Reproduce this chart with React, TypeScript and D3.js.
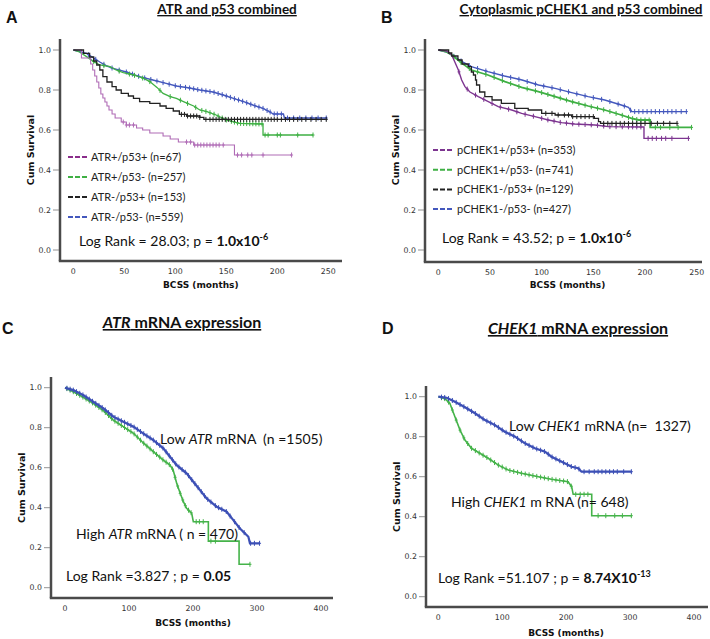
import React from "react";
import * as d3 from "d3";

type Pt = [number, number];

const yTicks = [0, 0.2, 0.4, 0.6, 0.8, 1.0];
const xTicksAB = [0, 50, 100, 150, 200, 250];
const xTicksCD = [0, 100, 200, 300, 400];

// ---------- Panel A: ATR and p53 combined ----------
const aPurple: Pt[] = [[0,1],[8,0.96],[17,0.93],[19,0.9],[21,0.87],[23,0.84],[25,0.81],[27,0.78],[29,0.76],[31,0.74],[33,0.72],[35,0.70],[38,0.68],[41,0.66],[47,0.64],[52,0.625],[62,0.61],[68,0.60],[75,0.585],[88,0.57],[95,0.555],[103,0.54],[118,0.525],[158,0.475],[214,0.475]];
const aPurpleCensor = [49,52,55,59,111,115,119,122,125,128,131,134,137,140,143,147,161,165,171,175,186,214];
const aGreen: Pt[] = [[0,1],[6,0.99],[13,0.967],[20,0.942],[26,0.925],[36,0.917],[42,0.9],[49,0.887],[59,0.875],[69,0.858],[75,0.842],[82,0.813],[88,0.783],[95,0.767],[101,0.758],[108,0.742],[118,0.72],[124,0.7],[131,0.692],[140,0.675],[150,0.65],[163,0.633],[186,0.63],[186,0.575],[235,0.575]];
const aGreenCensor = [20,30,45,55,60,68,75,85,95,105,112,120,126,130,134,138,142,146,150,155,158,161,164,167,170,173,176,179,182,185,188,191,200,203,220,235];
const aBlack: Pt[] = [[0,1],[10,0.983],[16,0.965],[20,0.945],[23,0.925],[26,0.9],[29,0.867],[33,0.84],[38,0.817],[42,0.8],[47,0.783],[54,0.77],[59,0.758],[65,0.742],[75,0.733],[85,0.72],[91,0.708],[98,0.695],[104,0.678],[111,0.67],[124,0.663],[128,0.653],[247,0.653]];
const aBlackCensor = [106,109,112,115,118,121,124,130,134,137,140,143,146,149,152,155,158,161,164,167,170,173,176,179,182,185,188,191,194,197,200,204,208,212,216,220,224,228,233,238,243,248];
const aBlue: Pt[] = [[0,1],[13,0.983],[20,0.96],[26,0.94],[33,0.92],[39,0.908],[52,0.89],[65,0.867],[78,0.85],[91,0.833],[101,0.82],[114,0.81],[124,0.8],[137,0.79],[147,0.775],[157,0.758],[167,0.742],[176,0.725],[186,0.708],[193,0.69],[196,0.68],[206,0.68],[207,0.66],[248,0.66]];
const aBlueCensor = [15,22,30,38,45,52,58,64,70,76,82,88,94,100,105,110,114,118,122,126,130,134,138,142,146,150,154,158,162,166,170,174,178,182,186,190,193,197,200,204,210,216,222,228,234,240,248];
const legendA = ["ATR+/p53+ (n=67)", "ATR+/p53- (n=257)", "ATR-/p53+ (n=153)", "ATR-/p53- (n=559)"];

// ---------- Panel B: Cytoplasmic pCHEK1 and p53 combined ----------
const bPurple: Pt[] = [[0,1],[8,0.995],[13,0.975],[16,0.94],[19.4,0.9],[22.6,0.85],[25.8,0.817],[30.6,0.79],[38.7,0.767],[48.4,0.742],[58,0.717],[71,0.7],[80.6,0.683],[93.5,0.667],[106.5,0.65],[119,0.637],[132,0.63],[151.6,0.625],[164.5,0.617],[199,0.615],[199,0.558],[242,0.558]];
const bPurpleCensor = [20,28,36,44,52,60,68,76,84,92,100,106,112,118,124,130,136,142,148,154,160,166,172,178,184,188,192,196,203,207,211,216,220,226,242];
const bGreen: Pt[] = [[0,1],[8,0.99],[13,0.975],[23,0.933],[32,0.9],[48,0.875],[64.5,0.842],[80.6,0.813],[96.8,0.792],[113,0.767],[129,0.742],[145,0.72],[161,0.7],[177,0.675],[187,0.658],[194,0.65],[205,0.65],[205,0.613],[245,0.613]];
const bGreenCensor = [15,22,30,38,46,54,62,70,78,86,94,100,106,112,118,124,130,136,142,148,154,160,166,172,178,184,188,192,196,200,204,210,215,224,232,245];
const bBlack: Pt[] = [[0,1],[10,0.985],[13,0.97],[19,0.95],[23,0.93],[29,0.917],[32,0.89],[34,0.875],[36,0.85],[37,0.825],[40,0.79],[45,0.767],[52,0.75],[61,0.733],[74,0.708],[87,0.7],[100,0.683],[113,0.675],[129,0.667],[151,0.658],[155,0.642],[157,0.633],[231,0.633]];
const bBlackCensor = [104,110,116,122,126,130,134,138,142,146,150,160,164,168,172,176,180,184,188,192,196,200,206,212,218,224,231];
const bBlue: Pt[] = [[0,1],[8,0.99],[13,0.975],[23,0.942],[32,0.917],[48,0.892],[64,0.87],[81,0.85],[97,0.825],[113,0.808],[129,0.787],[145,0.767],[161,0.75],[177,0.725],[184,0.713],[187,0.692],[240,0.692]];
const bBlueCensor = [15,22,30,38,46,54,62,70,78,86,94,102,110,118,126,134,142,150,158,166,174,180,186,190,194,198,202,206,210,214,218,222,226,230,235,240];
const legendB = ["pCHEK1+/p53+ (n=353)", "pCHEK1+/p53- (n=741)", "pCHEK1-/p53+ (n=129)", "pCHEK1-/p53- (n=427)"];

// ---------- Panel C: ATR mRNA expression ----------
const cLow: Pt[] = [[0,1],[13,0.988],[28.6,0.963],[44,0.93],[60,0.897],[75.5,0.855],[91,0.83],[107,0.805],[122,0.772],[138,0.738],[153.6,0.697],[164,0.655],[174.5,0.613],[190,0.572],[200.5,0.53],[211,0.488],[221,0.447],[237,0.405],[252.6,0.38],[263,0.338],[273,0.297],[286.5,0.255],[289,0.222],[304.7,0.222]];
const cLowCensor = [3,8,13,18,23,28,33,38,43,48,53,58,63,68,73,78,83,88,93,98,103,108,113,118,123,128,133,138,143,148,153,158,163,168,173,178,183,188,193,198,203,208,213,218,223,228,235,240,245,252,258,265,272,280,290,296,304];
const cHigh: Pt[] = [[0,1],[13,0.98],[28.6,0.952],[44,0.922],[60,0.885],[75.5,0.838],[91,0.805],[107,0.772],[122,0.725],[138,0.68],[153.6,0.638],[164,0.613],[169,0.588],[174.5,0.522],[180,0.472],[185,0.43],[190,0.397],[198,0.372],[200.5,0.33],[224,0.33],[224,0.233],[272,0.233],[272,0.117],[289,0.117]];
const cHighCensor = [3,8,13,18,23,28,33,38,43,48,53,58,63,68,73,78,83,88,93,98,103,108,113,118,123,128,133,138,143,148,153,158,163,168,172,176,180,184,188,193,197,205,210,216,228,235,289];

// ---------- Panel D: CHEK1 mRNA expression ----------
const dLow: Pt[] = [[0,1],[13,0.995],[26,0.975],[41.7,0.947],[57.4,0.917],[73,0.883],[88.7,0.858],[104,0.825],[120,0.8],[135.6,0.767],[151,0.742],[167,0.725],[177,0.7],[193,0.675],[208.6,0.65],[219,0.642],[224,0.625],[302.5,0.625]];
const dLowCensor = [5,10,16,22,28,34,40,46,52,58,64,70,76,82,88,94,100,106,112,118,124,130,136,142,148,154,160,166,172,178,184,190,196,202,208,214,220,228,236,244,250,256,262,268,274,280,290,302];
const dHigh: Pt[] = [[0,1],[10.4,0.99],[18,0.967],[26,0.9],[34,0.833],[41.7,0.783],[52,0.742],[65,0.717],[78,0.692],[94,0.658],[109.5,0.633],[130,0.617],[156.5,0.6],[177,0.587],[203,0.575],[208.6,0.55],[211,0.512],[240,0.512],[240,0.405],[302.5,0.405]];
const dHighCensor = [5,10,16,22,28,34,40,46,52,58,64,70,76,82,88,94,100,106,112,118,124,130,136,142,148,154,160,166,172,178,184,190,196,202,208,215,222,228,234,250,262,276,288,302];

type Series = { pts: Pt[]; censor: number[]; color: string; step: boolean; width: number };

function survAt(pts: Pt[], t: number, step: boolean): number {
  let i = -1;
  for (let k = 0; k < pts.length; k++) if (pts[k][0] <= t) i = k;
  if (i < 0) return pts[0][1];
  if (step) return pts[i][1];
  if (i + 1 < pts.length && pts[i + 1][0] > pts[i][0]) {
    const [t0, s0] = pts[i];
    const [t1, s1] = pts[i + 1];
    return s0 + ((s1 - s0) * (t - t0)) / (t1 - t0);
  }
  return pts[i][1];
}

type Layout = {
  x0: number; x1: number; tMax: number; yBot: number; yTop: number;
  axisX: number; axisY: number; axisTop: number; axisRight: number; xTicks: number[];
};

const SANS = "'DejaVu Sans', sans-serif";
const TXT = "Lato, 'Open Sans', sans-serif";

function Panel({ L, series }: { L: Layout; series: Series[] }) {
  const x = d3.scaleLinear().domain([0, L.tMax]).range([L.x0, L.x1]);
  const y = d3.scaleLinear().domain([0, 1]).range([L.yBot, L.yTop]);
  return (
    <g>
      <line x1={L.axisX} x2={L.axisX} y1={L.axisTop} y2={L.axisY} stroke="#4a4a4a" strokeWidth={2.5} />
      <line x1={L.axisX - 1.2} x2={L.axisRight} y1={L.axisY} y2={L.axisY} stroke="#4a4a4a" strokeWidth={2.5} />
      {yTicks.map((v) => (
        <g key={"y" + v}>
          <line x1={L.axisX - 7} x2={L.axisX - 1} y1={y(v)} y2={y(v)} stroke="#777" strokeWidth={0.8} />
          <text x={L.axisX - 9} y={y(v)} dy="0.35em" textAnchor="end" fontSize={7.8} fill="#333" fontFamily={SANS}>
            {v.toFixed(1)}
          </text>
        </g>
      ))}
      {L.xTicks.map((v) => (
        <text key={"x" + v} x={x(v)} y={L.axisY + 10.5} dy="0.35em" textAnchor="middle" fontSize={7.8} fill="#333" fontFamily={SANS}>
          {v}
        </text>
      ))}
      <text transform={`translate(${L.axisX - 29},${(L.yTop + L.yBot) / 2}) rotate(-90)`} textAnchor="middle" dy="0.35em" fontSize={9.5} fontWeight="bold" fill="#111" fontFamily={SANS}>
        Cum Survival
      </text>
      {series.map((s, i) => {
        const line = d3.line<Pt>().x((d) => x(d[0])).y((d) => y(d[1])).curve(s.step ? d3.curveStepAfter : d3.curveLinear);
        return (
          <g key={"s" + i}>
            <path d={line(s.pts) || ""} fill="none" stroke={s.color} strokeWidth={s.width} />
            {s.censor.map((t, j) => {
              const cx = x(t);
              const cy = y(survAt(s.pts, t, s.step));
              return (
                <path key={j} d={`M${cx},${cy - 2.5}V${cy + 2.5}M${cx - 1.5},${cy}H${cx + 1.5}`} stroke={s.color} strokeWidth={1} fill="none" />
              );
            })}
          </g>
        );
      })}
    </g>
  );
}

const layoutA: Layout = { x0: 73.3, x1: 328.3, tMax: 250, yBot: 250, yTop: 50, axisX: 60, axisY: 261, axisTop: 39, axisRight: 342, xTicks: xTicksAB };
const layoutB: Layout = { x0: 438.3, x1: 696.7, tMax: 250, yBot: 250, yTop: 50, axisX: 425, axisY: 262, axisTop: 39, axisRight: 702, xTicks: xTicksAB };
const layoutC: Layout = { x0: 65, x1: 321, tMax: 400, yBot: 587.7, yTop: 387.7, axisX: 51, axisY: 598, axisTop: 377, axisRight: 333, xTicks: xTicksCD };
const layoutD: Layout = { x0: 438.3, x1: 694, tMax: 400, yBot: 596.7, yTop: 396.7, axisX: 426, axisY: 607, axisTop: 386, axisRight: 708, xTicks: xTicksCD };

const PURPLE_A = "#b06cb6";
const PURPLE_B = "#7d3590";
const GREEN = "#3fb044";
const BLUE = "#4458bd";
const BLACK = "#222";

function Legend({ x, y0, gap, labels, colors, textX }: { x: number; y0: number; gap: number; labels: string[]; colors: string[]; textX: number }) {
  return (
    <g>
      {labels.map((lab, i) => (
        <g key={lab}>
          <line x1={x} x2={x + 19} y1={y0 + i * gap} y2={y0 + i * gap} stroke={colors[i]} strokeWidth={2} strokeDasharray="5,2" />
          <text x={textX} y={y0 + i * gap} dy="0.35em" fontSize={11} fill="#222" fontFamily={TXT}>{lab}</text>
        </g>
      ))}
    </g>
  );
}

export default function App() {
  const seriesA: Series[] = [
    { pts: aBlue, censor: aBlueCensor, color: BLUE, step: false, width: 1.4 },
    { pts: aGreen, censor: aGreenCensor, color: GREEN, step: false, width: 1.3 },
    { pts: aPurple, censor: aPurpleCensor, color: PURPLE_A, step: true, width: 1.1 },
    { pts: aBlack, censor: aBlackCensor, color: BLACK, step: true, width: 1.3 },
  ];
  const seriesB: Series[] = [
    { pts: bBlue, censor: bBlueCensor, color: BLUE, step: false, width: 1.4 },
    { pts: bGreen, censor: bGreenCensor, color: GREEN, step: false, width: 1.8 },
    { pts: bPurple, censor: bPurpleCensor, color: PURPLE_B, step: false, width: 1.4 },
    { pts: bBlack, censor: bBlackCensor, color: BLACK, step: true, width: 1.3 },
  ];
  const seriesC: Series[] = [
    { pts: cHigh, censor: cHighCensor, color: "#45b34a", step: false, width: 1.6 },
    { pts: cLow, censor: cLowCensor, color: "#3d50b6", step: false, width: 2.2 },
  ];
  const seriesD: Series[] = [
    { pts: dHigh, censor: dHighCensor, color: "#45b34a", step: false, width: 1.6 },
    { pts: dLow, censor: dLowCensor, color: "#3d50b6", step: false, width: 2.2 },
  ];
  const letterFont = "'Liberation Sans', Arial";
  const pre = { whiteSpace: "pre" as const };
  return (
    <svg width={710} height={639} style={{ position: "absolute", left: 0, top: 0, background: "#fff" }}>
      <rect width={710} height={639} fill="#fff" />
      <text x={6} y={23} fontSize={16} fontWeight="bold" fontFamily={letterFont} fill="#111">A</text>
      <text x={381} y={23} fontSize={16} fontWeight="bold" fontFamily={letterFont} fill="#111">B</text>
      <text x={2} y={334} fontSize={16} fontWeight="bold" fontFamily={letterFont} fill="#111">C</text>
      <text x={382} y={334} fontSize={16} fontWeight="bold" fontFamily={letterFont} fill="#111">D</text>

      <text x={227} y={14} textAnchor="middle" fontSize={13.5} fontWeight="bold" fontFamily={TXT} fill="#111" textDecoration="underline">ATR and p53 combined</text>
      <text x={581} y={14} textAnchor="middle" fontSize={13.5} fontWeight="bold" fontFamily={TXT} fill="#111" textDecoration="underline">Cytoplasmic pCHEK1 and p53 combined</text>
      <text x={182} y={328} textAnchor="middle" fontSize={16} fontWeight="bold" fontFamily={TXT} fill="#111" textDecoration="underline"><tspan fontStyle="italic">ATR</tspan> mRNA expression</text>
      <text x={578} y={334} textAnchor="middle" fontSize={16} fontWeight="bold" fontFamily={TXT} fill="#111" textDecoration="underline"><tspan fontStyle="italic">CHEK1</tspan> mRNA expression</text>

      <Panel L={layoutA} series={seriesA} />
      <Panel L={layoutB} series={seriesB} />
      <Panel L={layoutC} series={seriesC} />
      <Panel L={layoutD} series={seriesD} />

      <text x={200.8} y={285} dy="0.35em" textAnchor="middle" fontSize={9} fontWeight="bold" fontFamily={SANS} fill="#111">BCSS (months)</text>
      <text x={567.5} y={285} dy="0.35em" textAnchor="middle" fontSize={9} fontWeight="bold" fontFamily={SANS} fill="#111">BCSS (months)</text>
      <text x={193} y={623} dy="0.35em" textAnchor="middle" fontSize={9} fontWeight="bold" fontFamily={SANS} fill="#111">BCSS (months)</text>
      <text x={566} y={633} dy="0.35em" textAnchor="middle" fontSize={9} fontWeight="bold" fontFamily={SANS} fill="#111">BCSS (months)</text>

      <Legend x={68} y0={157} gap={20} textX={91} labels={legendA} colors={["#8b2d8b", GREEN, BLACK, BLUE]} />
      <Legend x={433} y0={150} gap={19.7} textX={457} labels={legendB} colors={[PURPLE_B, GREEN, BLACK, BLUE]} />

      <text x={79} y={246} fontSize={14} fontFamily={TXT} fill="#111">Log Rank = 28.03; p = <tspan fontWeight="bold">1.0x10</tspan><tspan fontWeight="bold" fontSize={9} dy={-6}>-6</tspan></text>
      <text x={442} y={243} fontSize={14} fontFamily={TXT} fill="#111">Log Rank = 43.52; p = <tspan fontWeight="bold">1.0x10</tspan><tspan fontWeight="bold" fontSize={9} dy={-6}>-6</tspan></text>
      <text x={66} y={581} fontSize={14} fontFamily={TXT} fill="#111">Log Rank =3.827 ; p = <tspan fontWeight="bold">0.05</tspan></text>
      <text x={438} y={583} fontSize={14} fontFamily={TXT} fill="#111">Log Rank =51.107 ; p = <tspan fontWeight="bold">8.74X10</tspan><tspan fontWeight="bold" fontSize={9} dy={-6}>-13</tspan></text>

      <text x={160} y={444} fontSize={14} fontFamily={TXT} fill="#111" style={pre}>Low <tspan fontStyle="italic">ATR</tspan> mRNA  (n =1505)</text>
      <text x={76} y={539} fontSize={14} fontFamily={TXT} fill="#111">High <tspan fontStyle="italic">ATR</tspan> mRNA ( n = 470)</text>
      <text x={509} y={431} fontSize={14} fontFamily={TXT} fill="#111" style={pre}>Low <tspan fontStyle="italic">CHEK1</tspan> mRNA (n=  1327)</text>
      <text x={451} y={507} fontSize={14} fontFamily={TXT} fill="#111">High <tspan fontStyle="italic">CHEK1</tspan> m RNA (n= 648)</text>
    </svg>
  );
}
